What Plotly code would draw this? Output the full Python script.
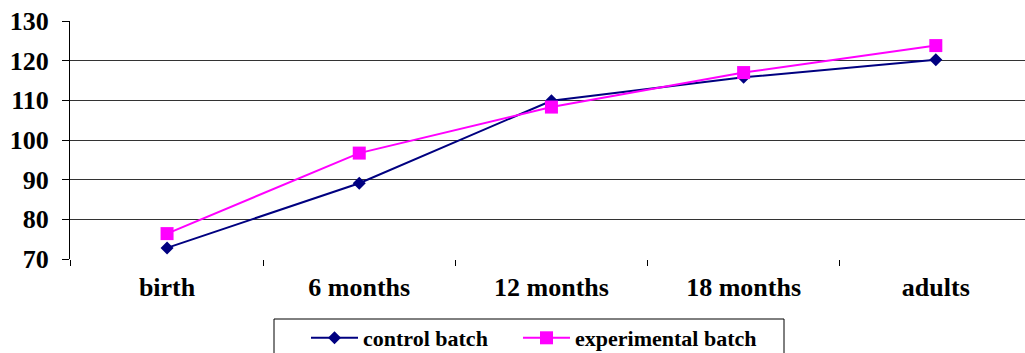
import plotly.graph_objects as go

categories = ["birth", "6 months", "12 months", "18 months", "adults"]
control = [72.8, 89.1, 109.9, 115.8, 120.2]
experimental = [76.4, 96.7, 108.3, 117.0, 123.8]
y_ticks = [70, 80, 90, 100, 110, 120, 130]

W, H = 1025, 353
ML, MR, MT, MB = 70, 0, 21, 94
PW = W - ML - MR
PH = H - MT - MB

def px_x(p):
    return (p - ML) / PW

def px_y(p):
    return (H - MB - p) / PH

FONT = "'Liberation Serif', 'Times New Roman', Times, serif"

fig = go.Figure()
fig.add_trace(go.Scatter(
    x=categories, y=control, name="control batch", mode="lines+markers",
    line=dict(color="#000080", width=2),
    marker=dict(symbol="diamond", size=10, color="#000080"),
    legend="legend",
))
fig.add_trace(go.Scatter(
    x=categories, y=experimental, name="experimental batch", mode="lines+markers",
    line=dict(color="#FF00FF", width=2),
    marker=dict(symbol="square", size=13, color="#FF00FF"),
    legend="legend2",
))

fig.update_layout(
    width=W, height=H,
    margin=dict(l=ML, r=MR, t=MT, b=MB, autoexpand=False),
    paper_bgcolor="white", plot_bgcolor="white",
    font=dict(family=FONT, color="black", size=26, weight="bold"),
    xaxis=dict(
        type="category", range=[-0.505, 4.464],
        showgrid=False, zeroline=False,
        showline=False, automargin=False,
        ticks="outside", tickson="boundaries", ticklen=6, tickcolor="black", tickwidth=1,
        tickfont=dict(family=FONT, size=26, weight="bold", color="black"),
        ticklabelstandoff=10,
    ),
    yaxis=dict(
        range=[70, 130], tickvals=y_ticks, automargin=False,
        showgrid=True, gridcolor="#333333", gridwidth=1,
        zeroline=False,
        showline=True, linecolor="black", linewidth=1,
        ticks="outside", ticklen=7, tickcolor="black",
        tickfont=dict(family=FONT, size=26, weight="bold", color="black"),
        ticklabelstandoff=8,
    ),
    showlegend=True,
    legend=dict(
        x=px_x(306), y=px_y(338), xanchor="left", yanchor="middle",
        orientation="h", bgcolor="rgba(0,0,0,0)", borderwidth=0, itemwidth=47,
        font=dict(family=FONT, size=22, weight="bold", color="black"),
    ),
    legend2=dict(
        x=px_x(518), y=px_y(338), xanchor="left", yanchor="middle",
        orientation="h", bgcolor="rgba(0,0,0,0)", borderwidth=0, itemwidth=47,
        font=dict(family=FONT, size=22, weight="bold", color="black"),
    ),
    shapes=[dict(
        type="rect", xref="paper", yref="paper",
        x0=px_x(274), x1=px_x(784), y0=px_y(319), y1=px_y(370),
        line=dict(color="black", width=1), fillcolor="rgba(0,0,0,0)", layer="below",
    )],
)

fig.write_html(
    "out.html",
    config={"displayModeBar": False},
    post_script="document.body.style.margin='0';document.body.style.overflow='hidden';",
)
